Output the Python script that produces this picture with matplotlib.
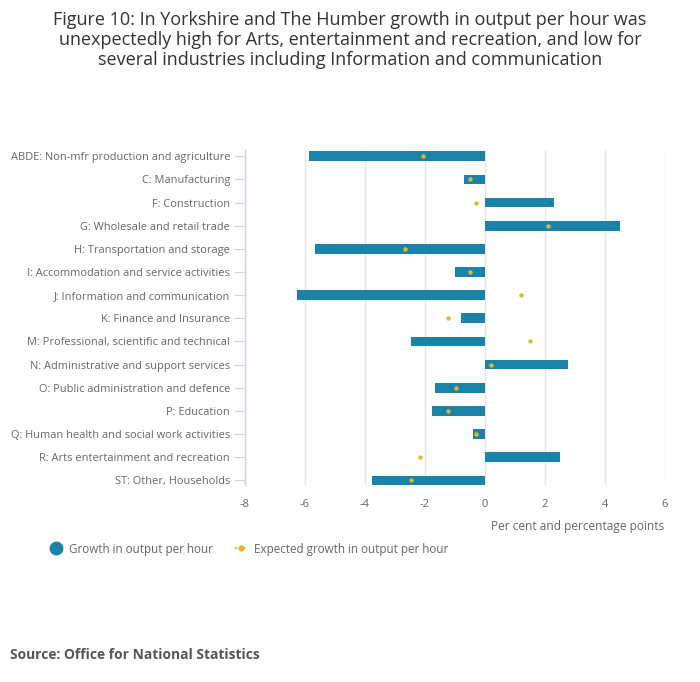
import numpy as np
import matplotlib
matplotlib.use("Agg")
import matplotlib.pyplot as plt
from matplotlib.lines import Line2D

plt.rcParams['font.family'] = ['Open Sans', 'DejaVu Sans']

industries = [
    "ABDE: Non-mfr production and agriculture",
    "C: Manufacturing",
    "F: Construction",
    "G: Wholesale and retail trade",
    "H: Transportation and storage",
    "I: Accommodation and service activities",
    "J: Information and communication",
    "K: Finance and Insurance",
    "M: Professional, scientific and technical",
    "N: Administrative and support services",
    "O: Public administration and defence",
    "P: Education",
    "Q: Human health and social work activities",
    "R: Arts entertainment and recreation",
    "ST: Other, Households",
]
growth = [-5.87, -0.70, 2.30, 4.50, -5.67, -1.00, -6.27, -0.80, -2.47,
          2.79, -1.67, -1.77, -0.40, 2.50, -3.77]
expected = [-2.04, -0.48, -0.28, 2.12, -2.64, -0.48, 1.22, -1.23, 1.52,
            0.22, -0.97, -1.23, -0.28, -2.14, -2.44]
xticks = [-8, -6, -4, -2, 0, 2, 4, 6]

blue = "#1a83aa"
yellow = "#e2b92a"
axis_col = "#ccd6eb"
text_col = "#666666"

fig = plt.figure(figsize=(7, 6.82), dpi=100)
ax = fig.add_axes([244.6 / 700, 1 - 485 / 682, 420 / 700, 335 / 682])

y = np.arange(len(industries))
ax.barh(y, growth, height=0.42, color=blue, zorder=2)
ax.scatter(expected, y, s=10, color=yellow, zorder=3, linewidths=0)

ax.set_xlim(-8, 6)
ax.set_ylim(len(industries) - 1 + 0.2, -0.27)
ax.set_xticks(xticks)
ax.set_xticklabels([str(t) for t in xticks])
ax.set_yticks(y)
ax.set_yticklabels(industries)

ax.grid(axis='x', color="#e6e6e6", linewidth=1, zorder=0)
ax.set_axisbelow(True)
for s in ['top', 'right', 'bottom']:
    ax.spines[s].set_visible(False)
ax.spines['left'].set_color(axis_col)
ax.spines['left'].set_linewidth(1)

ax.tick_params(axis='y', length=8, color=axis_col, labelsize=7.95, labelcolor=text_col, pad=2.5)
ax.tick_params(axis='x', length=0, labelsize=8, labelcolor=text_col, pad=10)

ax.set_xlabel("Per cent and percentage points", fontsize=8.6, color=text_col,
              loc='right', labelpad=7)

fig.text(0.5, 1 - 40 / 682,
         "Figure 10: In Yorkshire and The Humber growth in output per hour was\n"
         "unexpectedly high for Arts, entertainment and recreation, and low for\n"
         "several industries including Information and communication",
         ha='center', va='center', fontsize=13, color="#333333", linespacing=1.15)

handles = [
    Line2D([], [], marker='o', linestyle='none', markersize=9, color=blue),
    Line2D([], [], marker='o', linestyle=(0, (1, 3)), markersize=3.5, color=yellow,
           linewidth=1.5),
]
fig.legend(handles, ["Growth in output per hour", "Expected growth in output per hour"],
           loc='center left', bbox_to_anchor=(40 / 700, 1 - 549 / 682), ncol=2,
           frameon=False, fontsize=8.4, labelcolor=text_col, handlelength=1.0,
           handletextpad=0.6, columnspacing=1.9)

fig.text(10 / 700, 1 - 655 / 682, "Source: Office for National Statistics",
         fontsize=9.9, fontweight='bold', color="#555555", va='center', ha='left')

fig.savefig("out.png", dpi=100)
